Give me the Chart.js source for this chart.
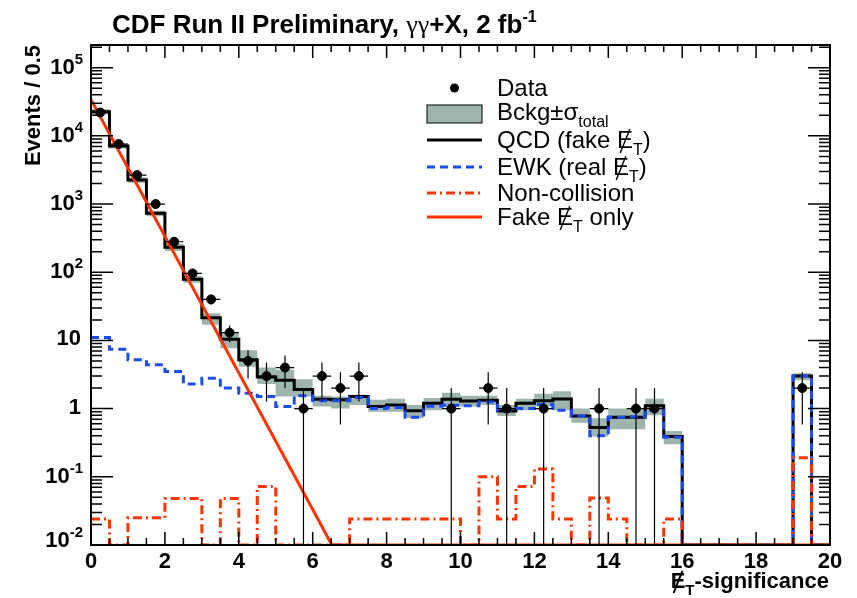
<!DOCTYPE html>
<html>
<head>
<meta charset="utf-8">
<script src="https://cdn.jsdelivr.net/npm/chart.js@4.4.1/dist/chart.umd.min.js"></script>
<style>
  html, body { margin: 0; padding: 0; background: #fff; }
</style>
</head>
<body>
<canvas id="myChart" width="857" height="598"></canvas>
<script>
// binning / axis ranges
const BIN = 0.5;
const XMIN = 0, XMAX = 20;
const YMIN = 0.01, YMAX = 2.15e5;
const xTickLabels = [0, 2, 4, 6, 8, 10, 12, 14, 16, 18, 20];
const yDecades = [-2, -1, 0, 1, 2, 3, 4, 5];

// histograms, 40 bins of 0.5 from 0 to 20
const qcd = [22500, 7100, 2250, 730, 232, 79, 21.5, 10.4, 5.2, 2.9,
             2.6, 1.9, 1.37, 1.35, 1.5, 1.07, 1.13, 0.93, 1.2, 1.37,
             1.29, 1.33, 0.92, 1.2, 1.3, 1.38, 0.78, 0.53, 0.75, 0.75,
             1.1, 0.39, 0, 0, 0, 0, 0, 0, 3.0, 0];
const ewk = [11, 7.4, 5.2, 4.4, 3.5, 2.3, 2.8, 2.0, 1.68, 1.5,
             1.07, 1.55, 1.3, 1.3, 1.45, 1.0, 1.04, 0.75, 1.08, 1.12,
             1.1, 1.25, 0.95, 1.0, 1.15, 0.95, 0.78, 0.4, 0.75, 0.76,
             0.95, 0.38, 0, 0, 0, 0, 0, 0, 3.0, 0];
const bandLow = [20500, 6500, 2050, 660, 205, 70, 17, 7.7, 4.1, 2.3,
                 1.5, 1.5, 1.07, 1.0, 1.13, 0.9, 0.9, 0.72, 0.95, 1.07,
                 1.07, 1.13, 0.78, 0.95, 1.07, 0.95, 0.62, 0.39, 0.5, 0.5,
                 0.8, 0.3, 0, 0, 0, 0, 0, 0, 2.6, 0];
const bandHigh = [24500, 7700, 2450, 800, 260, 88, 25, 12.7, 7.2, 4.0,
                  3.7, 2.7, 1.55, 1.5, 1.6, 1.35, 1.4, 1.13, 1.43, 1.71,
                  1.55, 1.55, 1.13, 1.4, 1.65, 1.8, 1.0, 0.72, 1.0, 1.0,
                  1.4, 0.47, 0, 0, 0, 0, 0, 0, 3.3, 0];
const nonColl = [0.024, 0, 0.025, 0.025, 0.048, 0.048, 0, 0.048, 0, 0.072,
                 0, 0, 0, 0, 0.024, 0.024, 0.024, 0.024, 0.024, 0.024,
                 0, 0.1, 0.024, 0.072, 0.13, 0.024, 0, 0.049, 0.024, 0,
                 0, 0.024, 0, 0, 0, 0, 0, 0, 0.19, 0];

// data points (bin centre, events)
const dataX = [0.25, 0.75, 1.25, 1.75, 2.25, 2.75, 3.25, 3.75, 4.25, 4.75, 5.25, 5.75,
               6.25, 6.75, 7.25, 9.75, 10.75, 11.25, 12.25, 13.75, 14.75, 15.25, 19.25];
const dataN = [22000, 7600, 2660, 1000, 280, 96, 40, 13, 5, 3, 4, 1,
               3, 2, 3, 1, 2, 1, 1, 1, 1, 1, 2];

// "fake MET only" fit line (straight on log scale)
const fakeX = [0, 6.52, 20];
const fakeY = [34000, 0.01, 0.01];

const SANS = '"Liberation Sans", Arial, sans-serif';
const RED = '#ff3300';
const BLUE = '#1a4cf0';
const GREY = '#9db5ad';

function steps(vals) {
  const pts = vals.map((v, i) => ({x: XMIN + i * BIN, y: Math.max(v, YMIN)}));
  pts.push({x: XMAX, y: Math.max(vals[vals.length - 1], YMIN)});
  return pts;
}

// draws a run of text pieces; piece.slash puts a stroke through it (missing-ET)
function drawParts(ctx, parts, x, y, align) {
  let w = 0;
  parts.forEach(p => { ctx.font = p.font; p.w = ctx.measureText(p.t).width; w += p.w; });
  let cx = align === 'right' ? x - w : x;
  ctx.textAlign = 'left';
  ctx.textBaseline = 'alphabetic';
  parts.forEach(p => {
    ctx.font = p.font;
    ctx.fillText(p.t, cx, y + (p.dy || 0));
    if (p.slash) {
      ctx.save();
      ctx.lineWidth = p.slash;
      ctx.strokeStyle = ctx.fillStyle;
      ctx.beginPath();
      ctx.moveTo(cx + p.w * 0.2, y + 5);
      ctx.lineTo(cx + p.w * 0.8, y - p.size * 0.78);
      ctx.stroke();
      ctx.restore();
    }
    cx += p.w;
  });
}

function metParts(size, bold) {
  const b = bold ? 'bold ' : '';
  return [
    {t: 'E', font: b + size + 'px ' + SANS, slash: bold ? 2 : 1.4, size: size},
    {t: 'T', font: b + Math.round(size * 0.68) + 'px ' + SANS, dy: size * 0.3}
  ];
}

const decorations = {
  id: 'decorations',
  afterDatasetsDraw(chart) {
    const ctx = chart.ctx;
    const xs = chart.scales.x, ys = chart.scales.y;
    const a = chart.chartArea;
    ctx.save();
    // error bars on data
    ctx.strokeStyle = '#000';
    ctx.lineWidth = 1.2;
    dataX.forEach((x, i) => {
      const n = dataN[i];
      const e = Math.sqrt(n);
      const px = xs.getPixelForValue(x);
      const py = ys.getPixelForValue(n);
      const top = ys.getPixelForValue(n + e);
      const bot = n - e > YMIN ? ys.getPixelForValue(n - e) : a.bottom;
      ctx.beginPath();
      ctx.moveTo(px, top); ctx.lineTo(px, bot);
      ctx.moveTo(xs.getPixelForValue(x - BIN / 2), py);
      ctx.lineTo(xs.getPixelForValue(x + BIN / 2), py);
      ctx.stroke();
    });
    ctx.restore();
  },
  afterDraw(chart) {
    const ctx = chart.ctx;
    const xs = chart.scales.x, ys = chart.scales.y;
    const a = chart.chartArea;
    ctx.save();
    ctx.fillStyle = '#000';
    ctx.strokeStyle = '#000';

    // frame
    ctx.lineWidth = 2;
    ctx.strokeRect(a.left, a.top, a.right - a.left, a.bottom - a.top);

    // x ticks (bottom and top, inside)
    ctx.lineWidth = 1.5;
    ctx.beginPath();
    for (let v = XMIN; v <= XMAX + 1e-9; v += BIN) {
      const px = xs.getPixelForValue(v);
      const len = Math.abs(v % 2) < 1e-9 ? 13 : 7;
      ctx.moveTo(px, a.bottom); ctx.lineTo(px, a.bottom - len);
      ctx.moveTo(px, a.top); ctx.lineTo(px, a.top + len);
    }
    // y ticks (left and right, inside)
    yDecades.forEach(d => {
      for (let k = 1; k <= 9; k++) {
        const v = k * Math.pow(10, d);
        if (v > YMAX) break;
        const py = ys.getPixelForValue(v);
        const len = k === 1 ? 22 : 11;
        ctx.moveTo(a.left, py); ctx.lineTo(a.left + len, py);
        ctx.moveTo(a.right, py); ctx.lineTo(a.right - len, py);
      }
    });
    ctx.stroke();

    // x tick labels
    ctx.font = 'bold 22px ' + SANS;
    ctx.textAlign = 'center';
    ctx.textBaseline = 'alphabetic';
    xTickLabels.forEach(v => ctx.fillText(String(v), xs.getPixelForValue(v), 568));

    // y tick labels
    yDecades.forEach(d => {
      const py = ys.getPixelForValue(Math.pow(10, d));
      const base = 'bold 22px ' + SANS;
      if (d === 0) drawParts(ctx, [{t: '1', font: base}], 81, py + 5, 'right');
      else if (d === 1) drawParts(ctx, [{t: '10', font: base}], 81, py + 5, 'right');
      else drawParts(ctx, [{t: '10', font: base},
                           {t: String(d).replace('-', '-'), font: 'bold 15px ' + SANS, dy: -10}],
                     83, py + (d === -2 ? 2 : 6), 'right');
    });

    // axis titles
    ctx.save();
    ctx.translate(40, a.top);
    ctx.rotate(-Math.PI / 2);
    ctx.font = 'bold 22px ' + SANS;
    ctx.textAlign = 'right';
    ctx.fillText('Events / 0.5', 0, 0);
    ctx.restore();

    drawParts(ctx, metParts(22, true).concat([{t: '-significance', font: 'bold 22px ' + SANS}]),
              829, 588, 'right');

    // title
    const b26 = 'bold 26px ' + SANS;
    drawParts(ctx, [
      {t: 'CDF Run II Preliminary, ', font: b26},
      {t: 'γγ', font: '26px "Liberation Serif", serif'},
      {t: '+X, 2 fb', font: b26},
      {t: '-1', font: 'bold 16px ' + SANS, dy: -11}
    ], 112, 33, 'left');

    // legend
    const lx0 = 427, lx1 = 482, tx = 497;
    const f = '24px ' + SANS, fs = '16px ' + SANS;
    const rows = [88, 114, 140, 167, 193, 217];
    // Data
    ctx.beginPath();
    ctx.arc((lx0 + lx1) / 2, rows[0], 4.5, 0, Math.PI * 2);
    ctx.fill();
    drawParts(ctx, [{t: 'Data', font: f}], tx, rows[0] + 8);
    // band
    ctx.fillStyle = GREY;
    ctx.fillRect(lx0, rows[1] - 9, lx1 - lx0, 18);
    ctx.fillStyle = '#000';
    ctx.lineWidth = 1;
    ctx.strokeRect(lx0, rows[1] - 9, lx1 - lx0, 18);
    drawParts(ctx, [{t: 'Bckg', font: f}, {t: '±σ', font: f}, {t: 'total', font: fs, dy: 7}], tx, rows[1] + 6);
    // lines
    const lineRow = (y, color, dash) => {
      ctx.save();
      ctx.strokeStyle = color; ctx.lineWidth = 3; ctx.setLineDash(dash);
      ctx.beginPath(); ctx.moveTo(lx0, y); ctx.lineTo(lx1, y); ctx.stroke();
      ctx.restore();
    };
    lineRow(rows[2], '#000', []);
    drawParts(ctx, [{t: 'QCD (fake ', font: f}].concat(metParts(24, false), [{t: ')', font: f}]), tx, rows[2] + 8);
    lineRow(rows[3], BLUE, [8, 5]);
    drawParts(ctx, [{t: 'EWK (real ', font: f}].concat(metParts(24, false), [{t: ')', font: f}]), tx, rows[3] + 8);
    lineRow(rows[4], RED, [9, 4, 2, 4]);
    drawParts(ctx, [{t: 'Non-collision', font: f}], tx, rows[4] + 8);
    lineRow(rows[5], RED, []);
    drawParts(ctx, [{t: 'Fake ', font: f}].concat(metParts(24, false), [{t: ' only', font: f}]), tx, rows[5] + 8);

    ctx.restore();
  }
};

const myChart = new Chart(document.getElementById('myChart'), {
  type: 'line',
  data: {
    datasets: [
      { label: 'band low', data: steps(bandLow), stepped: true, borderWidth: 0,
        borderColor: 'rgba(0,0,0,0)', pointRadius: 0, fill: false, order: 7 },
      { label: 'Bckg±σtotal', data: steps(bandHigh), stepped: true, borderWidth: 0,
        borderColor: 'rgba(0,0,0,0)', backgroundColor: GREY, pointRadius: 0, fill: 0, order: 6 },
      { label: 'QCD', data: steps(qcd), stepped: true, borderColor: '#000', borderWidth: 3,
        pointRadius: 0, fill: false, order: 5 },
      { label: 'EWK', data: steps(ewk), stepped: true, borderColor: BLUE, borderWidth: 3,
        borderDash: [8, 5], pointRadius: 0, fill: false, order: 4 },
      { label: 'Non-collision', data: steps(nonColl), stepped: true, borderColor: RED, borderWidth: 3,
        borderDash: [9, 4, 2, 4], pointRadius: 0, fill: false, order: 3 },
      { label: 'Fake only', data: fakeX.map((x, i) => ({x: x, y: fakeY[i]})), borderColor: RED,
        borderWidth: 3, pointRadius: 0, fill: false, order: 2 },
      { label: 'Data', data: dataX.map((x, i) => ({x: x, y: dataN[i]})), showLine: false,
        pointRadius: 4.5, pointBackgroundColor: '#000', pointBorderColor: '#000', order: 1 }
    ]
  },
  options: {
    responsive: false,
    animation: false,
    layout: { padding: { left: 91, right: 27, top: 45, bottom: 53 } },
    scales: {
      x: { type: 'linear', min: XMIN, max: XMAX, display: false },
      y: { type: 'logarithmic', min: YMIN, max: YMAX, display: false }
    },
    plugins: {
      legend: { display: false },
      title: { display: false },
      tooltip: { enabled: false }
    }
  },
  plugins: [decorations]
});
</script>
</body>
</html>
